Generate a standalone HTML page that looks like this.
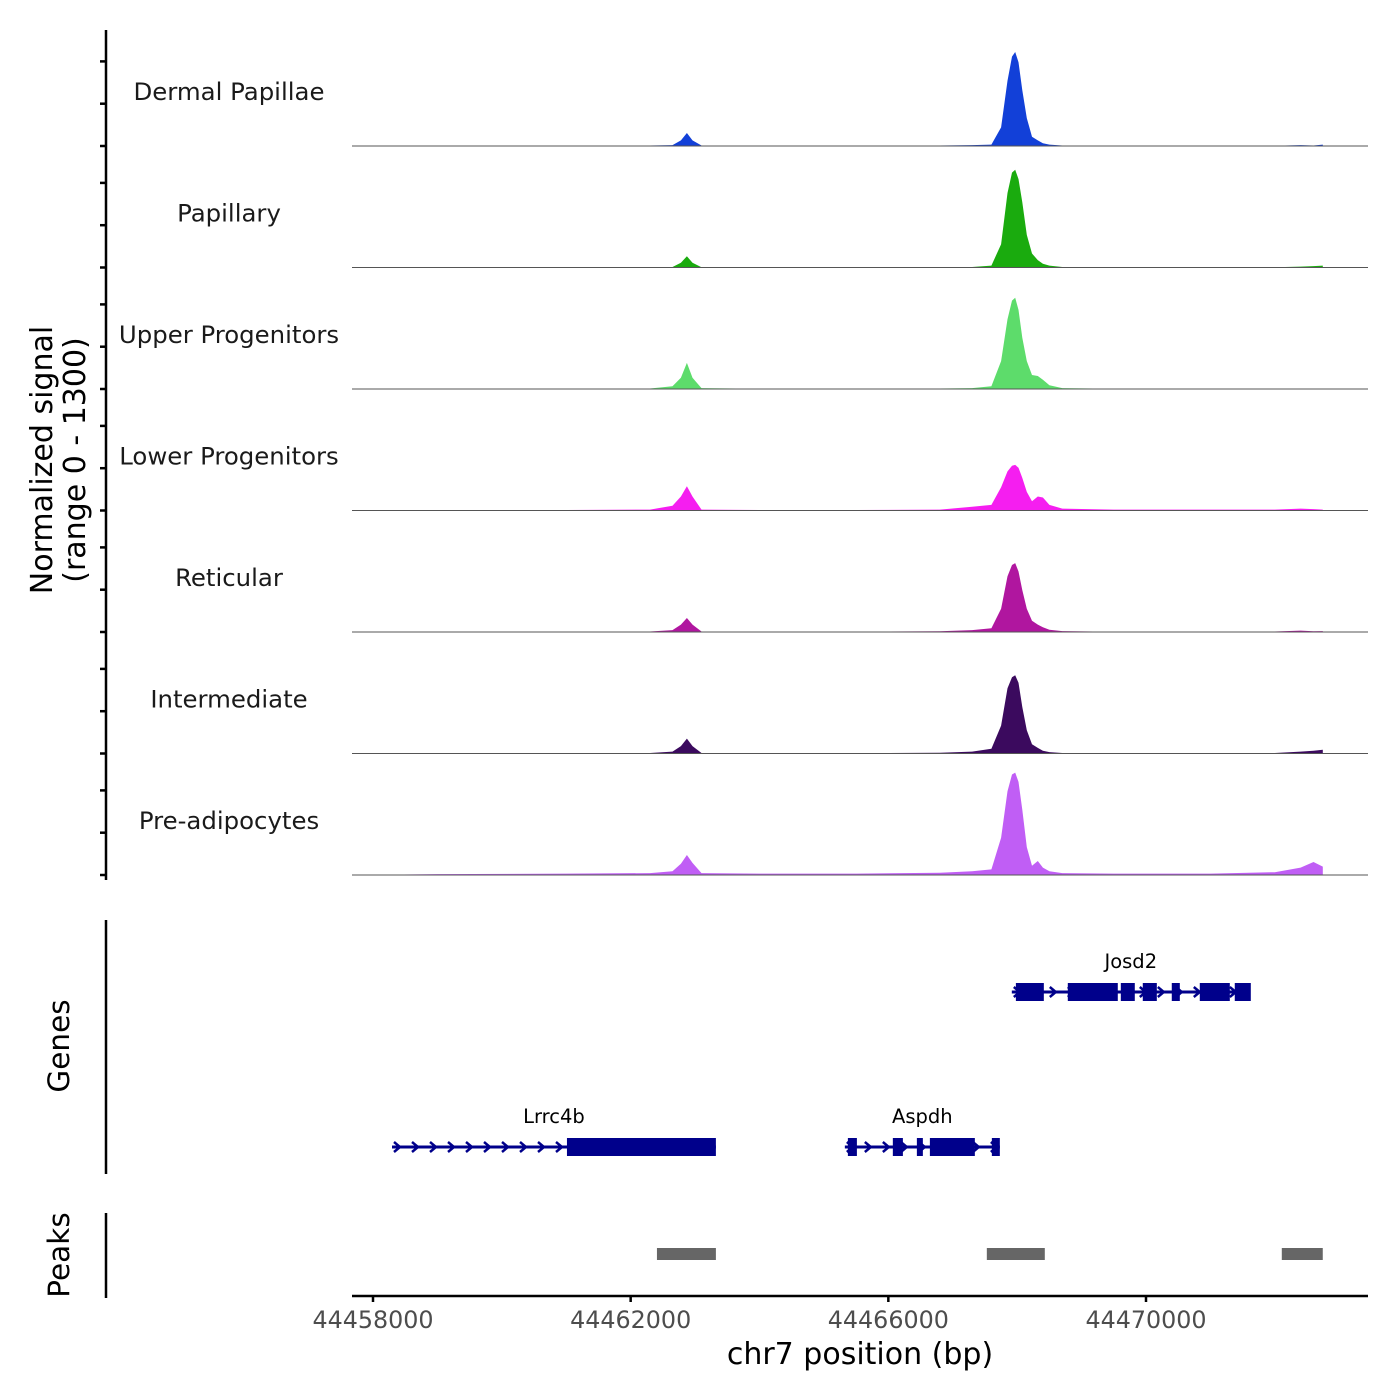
<!DOCTYPE html>
<html><head><meta charset="utf-8"><style>
html,body{margin:0;padding:0;background:#fff;}
svg{display:block;font-family:"DejaVu Sans","Liberation Sans",sans-serif;}
</style></head><body>
<svg id="chart" width="1400" height="1400" viewBox="0 0 1400 1400"></svg>
<script>
// ---- data ----
const positions = [44457680,44459000,44461000,44462300,44462650,44462780,44462873,44462960,44463100,44464000,44465500,44466800,44467300,44467600,44467750,44467850,44467920,44467970,44468020,44468080,44468150,44468230,44468320,44468400,44468500,44468700,44469500,44471000,44472000,44472400,44472600,44472745];
const trackNames = ["Dermal Papillae","Papillary","Upper Progenitors","Lower Progenitors","Reticular","Intermediate","Pre-adipocytes"];
const trackColors = ["#1240d8","#1aab0e","#5ddc6b","#f51ef0","#b0169f","#3b0a5e","#c05ef5"];
const sigDermal = [0,2,2,5,10,60,140,60,5,3,3,5,10,15,200,700,960,1010,900,600,300,100,60,30,15,5,3,3,3,10,5,15];
const sigPapillary = [0,0,1,2,5,50,120,50,3,2,2,3,5,20,250,800,1020,1050,950,700,350,150,80,40,20,5,2,2,3,10,15,20];
const sigUpper = [0,1,2,5,30,120,280,120,10,3,3,5,10,30,300,750,950,980,850,550,300,150,140,100,40,10,3,3,3,5,5,5];
const sigLower = [0,5,5,10,50,150,260,150,10,5,5,10,40,60,250,420,480,490,460,350,200,100,150,140,60,20,10,10,10,20,15,10];
const sigReticular = [0,3,3,5,20,80,150,80,5,3,3,8,20,40,250,600,720,740,650,450,250,120,80,50,25,10,3,3,5,15,8,10];
const sigIntermediate = [0,3,3,5,20,80,160,80,5,3,3,8,20,50,300,700,820,840,760,500,250,100,60,30,15,5,3,3,5,20,30,40];
const sigPreadipo = [0,10,15,20,40,120,215,130,20,15,15,25,40,60,400,900,1080,1100,1000,700,300,100,150,80,40,20,15,15,30,80,140,90];
const signals = [sigDermal,sigPapillary,sigUpper,sigLower,sigReticular,sigIntermediate,sigPreadipo];
const xTicks = [44458000,44462000,44466000,44470000];
const geneNames = ["Josd2","Lrrc4b","Aspdh"];
const geneStart = [44467917,44458295,44465325];
const geneEnd = [44471611,44463323,44467731];
const geneRow = [0,1,1];
const josd2Exons = [[44467980,44468414],[44468786,44469562],[44469609,44469826],[44469950,44470168],[44470400,44470525],[44470835,44471301],[44471378,44471627]];
const lrrc4bExons = [[44461011,44463323]];
const aspdhExons = [[44465372,44465512],[44466070,44466226],[44466443,44466536],[44466645,44467343],[44467607,44467731]];
const peakStart = [44462408,44467529,44472108];
const peakEnd = [44463323,44468429,44472744];

// ---- scales ----
const X0=44458000, PX0=373, PXPB=(1146-373)/12000;
const xs = bp => PX0 + (bp - X0)*PXPB;
const trackBase = i => 146 + i*121.5;
const ys = (v,i) => trackBase(i) - v/1300*121;
const NS="http://www.w3.org/2000/svg";
const svg=document.getElementById('chart');
function mk(tag,attrs,parent){const e=document.createElementNS(NS,tag);for(const k in attrs)e.setAttribute(k,attrs[k]);(parent||svg).appendChild(e);return e;}

// y axis
let ax=mk('line',{x1:106,y1:30,x2:106,y2:880,stroke:'#000','stroke-width':2.5});


for(let i=0;i<7;i++){for(let k=0;k<3;k++){const y=trackBase(i)-k*42.3;
 const t=mk('line',{x1:100,y1:y,x2:106,y2:y,stroke:'#000','stroke-width':2.5});
 
 }}
const yt=mk('text',{transform:'translate(52,460) rotate(-90)','text-anchor':'middle','font-size':30,fill:'#000'});


yt.innerHTML='<tspan x="0" dy="0">Normalized signal</tspan><tspan x="0" dy="33">(range 0 - 1300)</tspan>';

// tracks
for(let i=0;i<7;i++){
 const g=mk('g',{});
 
 
 const base=trackBase(i);
 let d='M'+xs(positions[0])+','+base;
 positions.forEach((p,j)=>{d+=' L'+xs(p).toFixed(1)+','+ys(signals[i][j],i).toFixed(1);});
 d+=' L'+xs(positions[positions.length-1])+','+base+' Z';
 const a=mk('path',{d:d,fill:trackColors[i]},g);
 
 
 const bl=mk('line',{x1:352,x2:1368,y1:base,y2:base,stroke:'#555','stroke-width':1},g);
 
 
 const lb=mk('text',{x:229,y:base-46,'text-anchor':'middle','font-size':24.4,fill:'#1a1a1a'},g);
 
 
 lb.textContent=trackNames[i];
}

// genes panel
let ga=mk('line',{x1:106,y1:920,x2:106,y2:1174,stroke:'#000','stroke-width':2.5});


let gt=mk('text',{transform:'translate(69,1046) rotate(-90)','text-anchor':'middle','font-size':29.5});


gt.textContent='Genes';
const exonSets=[josd2Exons,lrrc4bExons,aspdhExons];
const GC='#00008b';
for(let i=0;i<3;i++){
 const y=geneRow[i]===0?992:1147;
 const g=mk('g',{});
 
 
 const x1=xs(geneStart[i]),x2=xs(geneEnd[i]);
 mk('line',{x1:x1,x2:x2,y1:y,y2:y,stroke:GC,'stroke-width':3},g);
 for(let x=x1+2;x<x2-4;x+=18){mk('path',{d:`M${x},${y-5} L${x+6},${y} L${x},${y+5}`,fill:'none',stroke:GC,'stroke-width':2.5},g);}
 exonSets[i].forEach(e=>{const r=mk('rect',{x:xs(e[0]),y:y-9,width:xs(e[1])-xs(e[0]),height:18,fill:GC},g);
  
  });
 const lt=mk('text',{x:(x1+x2)/2,y:y-24,'text-anchor':'middle','font-size':19.5,fill:'#000'},g);
 
 
 lt.textContent=geneNames[i];
}

// peaks panel
let pa=mk('line',{x1:106,y1:1213,x2:106,y2:1298,stroke:'#000','stroke-width':2.5});


let pt=mk('text',{transform:'translate(69,1255) rotate(-90)','text-anchor':'middle','font-size':29.5});


pt.textContent='Peaks';
for(let i=0;i<peakStart.length;i++){
 const r=mk('rect',{x:xs(peakStart[i]),y:1248,width:xs(peakEnd[i])-xs(peakStart[i]),height:12,fill:'#666'});
 
 
}

// x axis
let xa=mk('line',{x1:352,x2:1368,y1:1296,y2:1296,stroke:'#000','stroke-width':2.5});


xTicks.forEach(t=>{
 const tk=mk('line',{x1:xs(t),x2:xs(t),y1:1296,y2:1302,stroke:'#000','stroke-width':2.5});
 
 
 const tl=mk('text',{x:xs(t),y:1328,'text-anchor':'middle','font-size':23.8,fill:'#4d4d4d'});
 
 
 tl.textContent=t;
});
let xt=mk('text',{x:860,y:1364,'text-anchor':'middle','font-size':30,fill:'#000'});


xt.textContent='chr7 position (bp)';
</script>
</body></html>
